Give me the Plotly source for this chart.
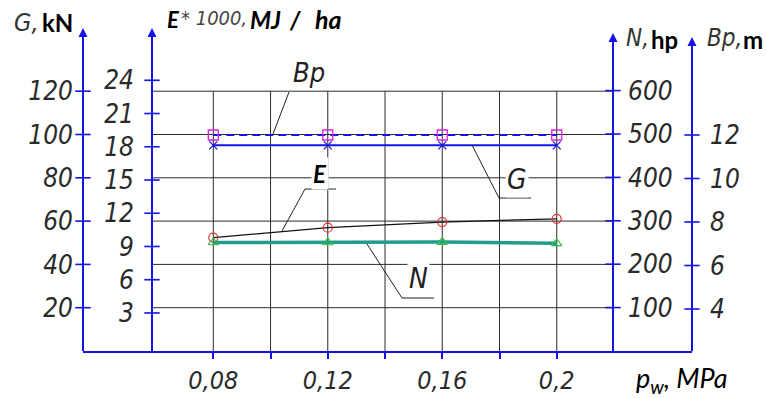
import plotly.graph_objects as go

W, H = 767, 398

# ---------------- data ----------------
pw = [0.08, 0.12, 0.16, 0.20]
Bp = [12, 12, 12, 12]
G = [95, 95, 95, 95]
E = [9.8, 10.7, 11.2, 11.5]
N = [250, 250, 251, 248]

x_tickvals = [0.08, 0.10, 0.12, 0.14, 0.16, 0.18, 0.20]
x_ticktext = ["0,08", " ", "0,12", " ", "0,16", " ", "0,2"]
G_ticks = [20, 40, 60, 80, 100, 120]
E_ticks = [3, 6, 9, 12, 15, 18, 21, 24]
N_ticks = [100, 200, 300, 400, 500, 600]
Bp_ticks = [4, 6, 8, 10, 12]

# ---------------- layout geometry (pixels) ----------------
AX_G, AX_E, AX_N, AX_B = 83, 152, 613, 692
BOTTOM, TOP = 351, 28
TOP_N, TOP_B = 33, 37
PX_PER_X = 2862.0
X0 = 0.08 - (213.3 - AX_G) / PX_PER_X
X1 = X0 + (AX_B - AX_G) / PX_PER_X

G_rng = [0, (BOTTOM - TOP) / 2.165]
E_rng = [(346.2 - BOTTOM) / 11.08, (346.2 - TOP) / 11.08]
N_rng = [0, (BOTTOM - TOP) / 0.434]
B_rng = [12 + (135 - BOTTOM) / 21.75, 12 + (135 - TOP) / 21.75]

def px(p):
    return p / W

def py(p):
    return 1 - p / H

def xdata(p):
    return X0 + (p - AX_G) / PX_PER_X

BLUE = "#1414e6"
GRID = "#2b2b2b"
GOST = "Liberation Sans Narrow, DejaVu Sans Condensed, Arial Narrow, sans-serif"
SANS = "Lato, Open Sans, sans-serif"
TICKFONT = dict(family=GOST, size=26, color="#2a2a2a", style="italic")

fig = go.Figure()

# ---------------- series ----------------
fig.add_trace(go.Scatter(
    x=pw, y=Bp, yaxis="y4", mode="lines+markers", name="Bp",
    line=dict(color=BLUE, width=2, dash="8px,5px"),
    marker=dict(symbol="square-open", size=10, color="#e020e0", line=dict(width=1.3)),
))
fig.add_trace(go.Scatter(
    x=pw, y=G, yaxis="y", mode="lines+markers", name="G",
    line=dict(color=BLUE, width=2),
    marker=dict(symbol="x-thin-open", size=8, color=BLUE, line=dict(width=1.2, color=BLUE)),
))
fig.add_trace(go.Scatter(
    x=pw, y=E, yaxis="y2", mode="lines+markers", name="E",
    line=dict(color="#111111", width=1.2),
    marker=dict(symbol="circle-open", size=9, color="#e03030", line=dict(width=1.2)),
))
fig.add_trace(go.Scatter(
    x=pw, y=N, yaxis="y3", mode="lines+markers", name="N",
    line=dict(color="#1f9c8c", width=3.5),
    marker=dict(symbol="triangle-up-open", size=9, color="#30c040", line=dict(width=1.2)),
))

# ---------------- crossing axis ticks ----------------
for ticks, ax_px, yax in [(G_ticks, AX_G, "y"), (E_ticks, AX_E, "y2"),
                          (N_ticks, AX_N, "y3"), (Bp_ticks, AX_B, "y4")]:
    fig.add_trace(go.Scatter(
        x=[xdata(ax_px)] * len(ticks), y=ticks, yaxis=yax, mode="markers",
        marker=dict(symbol="line-ew", size=11, line=dict(color=BLUE, width=1.6)),
        cliponaxis=False, showlegend=False, hoverinfo="skip",
    ))

shapes = []
# horizontal grid lines
for g in G_ticks:
    shapes.append(dict(type="line", xref="paper", yref="y", x0=px(AX_E), x1=px(AX_N),
                       y0=g, y1=g, line=dict(color=GRID, width=1), layer="below"))
# vertical grid lines
for xv in x_tickvals:
    shapes.append(dict(type="line", xref="x", yref="y", x0=xv, x1=xv,
                       y0=G_rng[0], y1=G_ticks[-1], line=dict(color=GRID, width=1), layer="below"))

# axis lines
for ax_px, top in [(AX_G, TOP + 2), (AX_E, TOP + 2), (AX_N, TOP_N + 2), (AX_B, TOP_B + 2)]:
    shapes.append(dict(type="line", xref="paper", yref="paper",
                       x0=px(ax_px), x1=px(ax_px), y0=py(BOTTOM), y1=py(top),
                       line=dict(color=BLUE, width=2)))

# leader lines for the curve labels
leaders = [
    [(289, 92), (273, 134)],                 # Bp
    [(336, 189), (305, 189), (282, 231)],    # E
    [(531, 198), (499, 198), (472, 145)],    # G
    [(367, 244), (402, 298), (434, 298)],    # N
]
for pts in leaders:
    for (a, b) in zip(pts[:-1], pts[1:]):
        shapes.append(dict(type="line", xref="paper", yref="paper",
                           x0=px(a[0]), y0=py(a[1]), x1=px(b[0]), y1=py(b[1]),
                           line=dict(color="#222222", width=1)))

# arrowheads on the axis tops
fig.add_trace(go.Scatter(
    x=[xdata(AX_G), xdata(AX_E)], y=[G_rng[1], G_rng[1]], yaxis="y", mode="markers",
    marker=dict(symbol="arrow-up", size=9, color=BLUE, line=dict(width=0)),
    cliponaxis=False, showlegend=False, hoverinfo="skip",
))
fig.add_trace(go.Scatter(
    x=[xdata(AX_N)], y=[(BOTTOM - TOP_N) / 0.434], yaxis="y3", mode="markers",
    marker=dict(symbol="arrow-up", size=9, color=BLUE, line=dict(width=0)),
    cliponaxis=False, showlegend=False, hoverinfo="skip",
))
fig.add_trace(go.Scatter(
    x=[xdata(AX_B)], y=[12 + (135 - TOP_B) / 21.75], yaxis="y4", mode="markers",
    marker=dict(symbol="arrow-up", size=9, color=BLUE, line=dict(width=0)),
    cliponaxis=False, showlegend=False, hoverinfo="skip",
))

annotations = []

def label(text, x, y, family, size, color="#222222", style="normal", weight="normal",
          xanchor="left", bg=None):
    d = dict(text=text, x=px(x), y=py(y), xref="paper", yref="paper", showarrow=False,
             xanchor=xanchor, yanchor="middle",
             font=dict(family=family, size=size, color=color, style=style, weight=weight))
    if bg:
        d["bgcolor"] = bg
        d["borderpad"] = 1
    annotations.append(d)

# axis titles
label("G,", 12, 22, GOST, 25, "#333333", "italic")
label("kN", 40, 22, SANS, 24, "#000000", "normal", "bold")
label("E", 165, 19, SANS, 22, "#000000", "italic", "bold")
label("* 1000,", 179, 18, GOST, 20, "#444444", "italic")
label("MJ", 248, 19, SANS, 24, "#000000", "italic", "bold")
label("/", 287, 19, SANS, 24, "#000000", "italic", "bold")
label("ha", 313, 19, SANS, 25, "#000000", "italic", "bold")
label("N,", 624, 38, GOST, 24, "#333333", "italic")
label("hp", 649, 39, SANS, 24, "#000000", "normal", "bold")
label("Bp,", 705, 38, GOST, 24, "#333333", "italic")
label("m", 741, 39, SANS, 24, "#000000", "normal", "bold")
label("p<sub>w</sub>, MPa", 634, 379, SANS, 27, "#000000", "italic")

# curve labels
label("Bp", 309, 73, GOST, 27, "#222222", "italic", xanchor="center")
label("E", 320, 173, SANS, 24, "#000000", "italic", "bold", xanchor="center", bg="white")
label("G", 517, 179, GOST, 28, "#222222", "italic", xanchor="center", bg="white")
label("N", 418, 278, GOST, 28, "#222222", "italic", xanchor="center", bg="white")

ydom = [py(BOTTOM), py(TOP)]
common_y = dict(anchor="free", showline=False, showgrid=False, zeroline=False,
                ticks="", tickfont=TICKFONT, automargin=False)

fig.update_layout(
    width=W, height=H,
    margin=dict(l=0, r=0, t=0, b=0, autoexpand=False),
    paper_bgcolor="white", plot_bgcolor="rgba(0,0,0,0)",
    showlegend=False,
    xaxis=dict(domain=[px(AX_G), px(AX_B)], range=[X0, X1], automargin=False,
               showline=True, linecolor=BLUE, linewidth=2,
               showgrid=False, zeroline=False,
               ticks="outside", ticklen=6, tickwidth=2, tickcolor=BLUE,
               tickvals=x_tickvals, ticktext=x_ticktext,
               tickfont=dict(family=GOST, size=25, color="#2a2a2a", style="italic"),
               ticklabelstandoff=0),
    yaxis=dict(domain=ydom, range=G_rng, position=px(AX_G), side="left",
               tickvals=G_ticks, ticklabelstandoff=10, **common_y),
    yaxis2=dict(overlaying="y", range=E_rng, position=px(AX_E), side="left",
                tickvals=E_ticks, ticklabelstandoff=18, **common_y),
    yaxis3=dict(overlaying="y", range=N_rng, position=px(AX_N), side="right",
                tickvals=N_ticks, ticklabelstandoff=14, **common_y),
    yaxis4=dict(overlaying="y", range=B_rng, position=px(AX_B), side="right",
                tickvals=Bp_ticks, ticklabelstandoff=17, **common_y),
    shapes=shapes,
    annotations=annotations,
)

fig.write_html("out.html")
